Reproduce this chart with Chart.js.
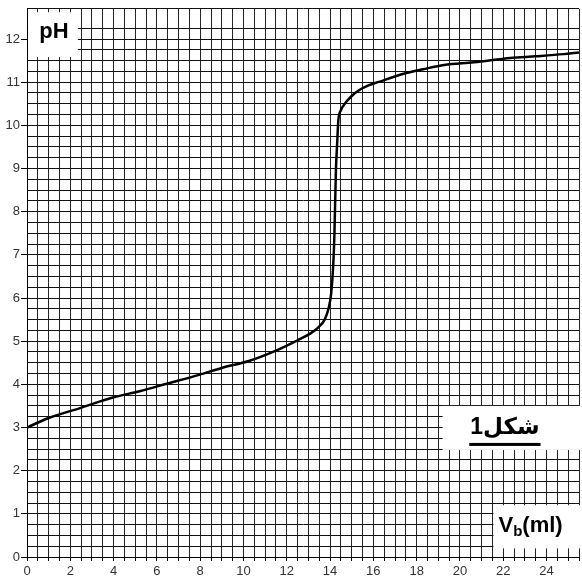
<!DOCTYPE html>
<html>
<head>
<meta charset="utf-8">
<script src="https://cdn.jsdelivr.net/npm/chart.js@4/dist/chart.umd.min.js"></script>
<style>
    html, body { margin: 0; padding: 0; background: #fff; }
    #wrap { width: 582px; height: 585px; }
</style>
</head>
<body>
<div id="wrap"><canvas id="ph-chart"></canvas></div>
<script>
// titration curve
const volumes = [0, 1, 2.45, 4, 5.2, 6.5, 7.95, 9, 10.25, 11.5, 12.54, 13.1, 13.46, 13.75, 13.92, 14.05, 14.15, 14.2, 14.27, 14.33, 14.38, 14.5, 14.68, 15.0, 15.3, 15.8, 16.21, 17.44, 18.3, 19.27, 20.65, 22.33, 23.5, 24.78, 25.5];
const phValues = [3.0, 3.22, 3.45, 3.7, 3.84, 4.02, 4.22, 4.38, 4.54, 4.78, 5.03, 5.18, 5.32, 5.5, 5.74, 6.1, 6.8, 7.45, 8.95, 9.6, 10.1, 10.35, 10.5, 10.68, 10.8, 10.93, 11.0, 11.2, 11.3, 11.4, 11.46, 11.56, 11.6, 11.65, 11.69];

const xLabelEvery = 2;
const yLabelEvery = 1;

// white label boxes, in axis units: [xMin, xMax, yMin, yMax]
const phBox = [0.05, 2.35, 11.58, 12.62];
const figBox = [19.2, 25.6, 2.48, 3.5];
const vbBox = [21.55, 25.6, 0.2, 1.2];

const labelBoxes = {
    id: 'labelBoxes',
    beforeDatasetsDraw(chart) {
        const { ctx, scales: { x, y } } = chart;
        const rect = b => {
            const x0 = x.getPixelForValue(b[0]);
            const x1 = x.getPixelForValue(b[1]);
            const y0 = y.getPixelForValue(b[3]);
            const y1 = y.getPixelForValue(b[2]);
            ctx.fillStyle = '#fff';
            ctx.fillRect(x0, y0, x1 - x0, y1 - y0);
            return { x0, x1, y0, y1 };
        };
        ctx.save();

        // pH
        const a = rect(phBox);
        ctx.fillStyle = '#000';
        ctx.font = 'bold 22px "Liberation Sans", Arial, sans-serif';
        ctx.textAlign = 'center';
        ctx.textBaseline = 'alphabetic';
        ctx.fillText('pH', (a.x0 + a.x1) / 2 + 1, a.y0 + 26);

        // شكل1
        const b = rect(figBox);
        ctx.fillStyle = '#000';
        ctx.font = 'bold 23px "Liberation Sans", "DejaVu Sans", sans-serif';
        ctx.textAlign = 'center';
        const label = 'شكل1';
        const cx = (b.x0 + b.x1) / 2 - 7;
        ctx.fillText(label, cx, b.y0 + 28);
        const w = ctx.measureText(label).width;
        ctx.fillRect(cx - w / 2 - 1, b.y0 + 37, w + 2, 3);

        // Vb(ml)
        const c = rect(vbBox);
        ctx.fillStyle = '#000';
        ctx.textAlign = 'left';
        let tx = c.x0 + 5;
        const base = c.y0 + 27;
        ctx.font = 'bold 22px "Liberation Sans", Arial, sans-serif';
        ctx.fillText('V', tx, base);
        tx += ctx.measureText('V').width;
        ctx.font = 'bold 15px "Liberation Sans", Arial, sans-serif';
        ctx.fillText('b', tx, base + 4);
        tx += ctx.measureText('b').width;
        ctx.font = 'bold 22px "Liberation Sans", Arial, sans-serif';
        ctx.fillText('(ml)', tx, base);
        ctx.restore();
    }
};

const points = volumes.map((v, i) => ({ x: v, y: phValues[i] }));

new Chart(document.getElementById('ph-chart').getContext('2d'), {
    type: 'scatter',
    data: {
        datasets: [{
            data: points,
            showLine: true,
            borderColor: '#000',
            borderWidth: 2.5,
            pointRadius: 0,
            cubicInterpolationMode: 'monotone',
            fill: false
        }]
    },
    options: {
        responsive: true,
        maintainAspectRatio: false,
        animation: false,
        layout: { padding: { top: 4, right: -4, left: 0, bottom: 0 } },
        plugins: {
            legend: { display: false },
            tooltip: { enabled: false }
        },
        scales: {
            x: {
                type: 'linear',
                min: 0,
                max: 25.5,
                afterFit: s => { s.height = 28; },
                border: { display: true, color: '#000', width: 1 },
                grid: { color: '#262626', lineWidth: 1, tickLength: 4, tickColor: '#000' },
                ticks: {
                    stepSize: 0.5,
                    autoSkip: false,
                    maxRotation: 0,
                    padding: 3,
                    color: '#333',
                    font: { family: 'Arial, "Liberation Sans", sans-serif', size: 13 },
                    callback: v => (v % xLabelEvery === 0 ? String(v) : '')
                }
            },
            y: {
                type: 'linear',
                min: 0,
                max: 12.7,
                afterFit: s => { s.width = 27; },
                border: { display: true, color: '#000', width: 1 },
                grid: {
                    color: '#111',
                    lineWidth: 1,
                    tickLength: 6,
                    tickColor: c => (c.tick && c.tick.value % yLabelEvery === 0 ? '#000' : 'rgba(0,0,0,0)')
                },
                ticks: {
                    stepSize: 0.25,
                    autoSkip: false,
                    padding: 1,
                    color: '#333',
                    font: { family: 'Arial, "Liberation Sans", sans-serif', size: 13 },
                    callback: v => (v % yLabelEvery === 0 ? String(v) : '')
                }
            }
        }
    },
    plugins: [labelBoxes]
});
</script>
</body>
</html>
